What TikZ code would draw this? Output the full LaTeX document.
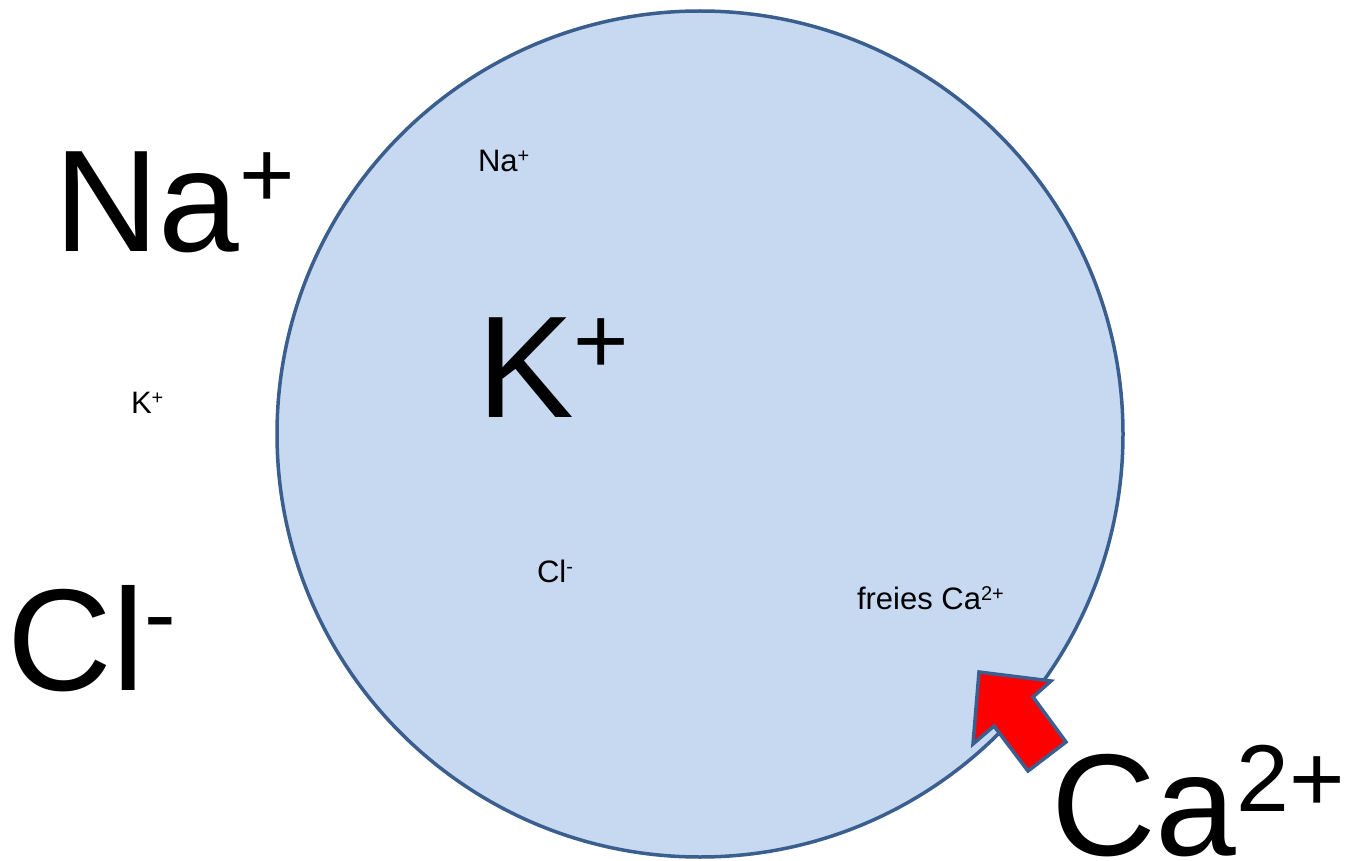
\documentclass[tikz,border=0pt]{standalone}
\usepackage{fontspec}
\setmainfont{Liberation Sans}
\definecolor{cellfill}{HTML}{C6D9F1}
\definecolor{cellline}{HTML}{3A5F8E}
\newcommand{\bigion}[2]{{\fontsize{145}{145}\selectfont #1\raisebox{44pt}{\fontsize{95}{95}\selectfont #2}}}
\newcommand{\smallion}[2]{{\fontsize{31}{31}\selectfont #1\raisebox{9pt}{\fontsize{20}{20}\selectfont #2}}}
\begin{document}
\begin{tikzpicture}[x=1pt,y=-1pt,
  lbl/.style={anchor=base west,inner sep=0pt,outer sep=0pt,text=black}]
\useasboundingbox (0,0) rectangle (1350,861);
\fill[white] (0,0) rectangle (1350,861);
% cell
\node[circle,draw=cellline,line width=3.5pt,fill=cellfill,minimum size=846pt,inner sep=0pt] (cell) at (700,434) {};
% arrow
\coordinate (tip) at (979,672);
\coordinate (hr) at (1051,681);
\coordinate (nr) at (1033,697);
\coordinate (sr) at (1066,742);
\coordinate (sl) at (1028,771);
\coordinate (nl) at (994,726);
\coordinate (hl) at (973,744);
\draw[fill=red,draw=cellline,line width=3.5pt,line join=miter] (tip) -- (hr) -- (nr) -- (sr) -- (sl) -- (nl) -- (hl) -- cycle;
% labels
\node[lbl] (naout) at (54,252) {\bigion{Na}{+}};
\node[lbl] (kin) at (477,417) {\bigion{K}{+}};
\node[lbl] (clout) at (8,690) {\bigion{Cl}{-}};
\node[lbl] (caout) at (1051,855) {\bigion{Ca}{2+}};
\node[lbl] (nain) at (478,172) {\smallion{Na}{+}};
\node[lbl] (kout) at (131,413) {\smallion{K}{+}};
\node[lbl] (clin) at (537,582) {\smallion{Cl}{-}};
\node[lbl] (cain) at (857,609) {\smallion{freies Ca}{2+}};
\end{tikzpicture}
\end{document}
